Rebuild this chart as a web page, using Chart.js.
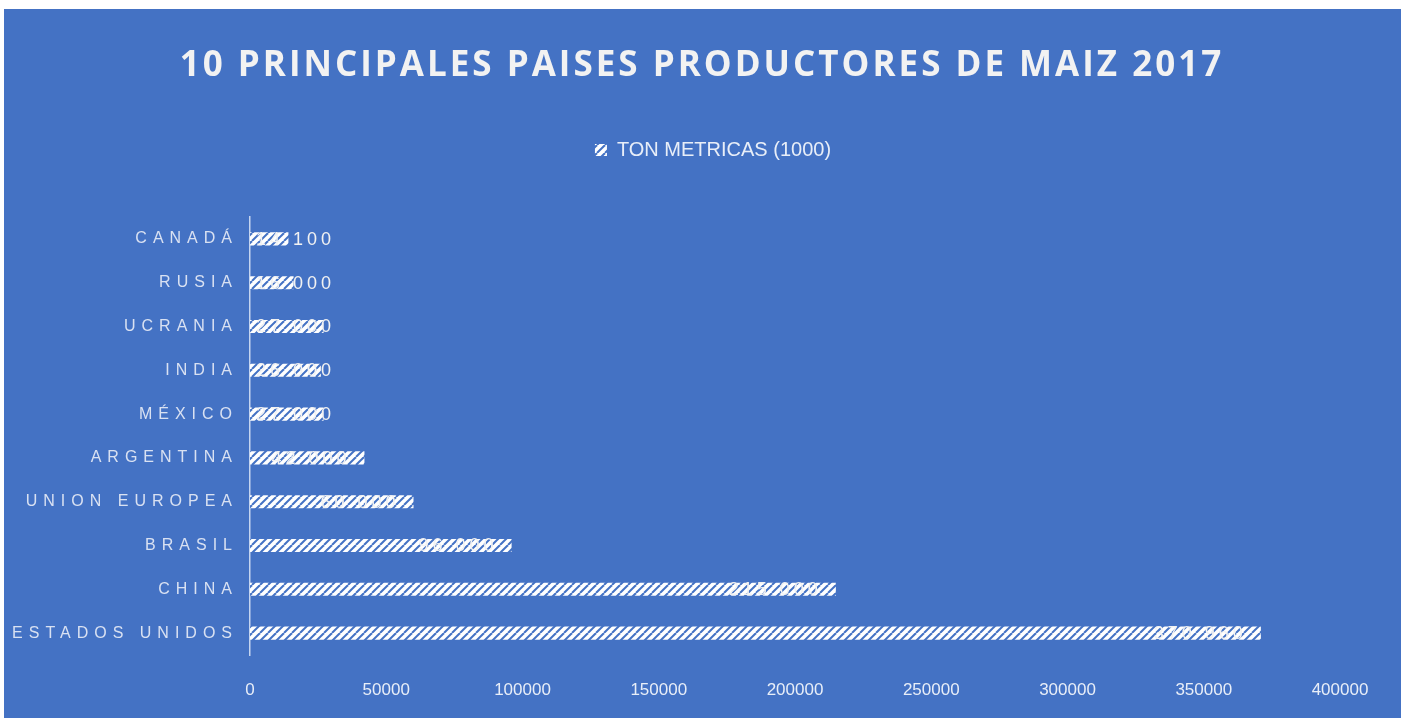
<!DOCTYPE html>
<html>
<head>
<meta charset="utf-8">
<script src="https://cdn.jsdelivr.net/npm/chart.js@4/dist/chart.umd.min.js"></script>
<style>
  html, body { margin: 0; padding: 0; background: #ffffff; }
  #wrap { position: absolute; left: 4px; top: 9px; width: 1397px; height: 709px; background: #4472C4; }
</style>
</head>
<body>
<div id="wrap"><canvas id="c"></canvas></div>
<script>
const titleText = '10 PRINCIPALES PAISES PRODUCTORES DE MAIZ 2017';
const seriesName = 'TON METRICAS (1000)';
const categories = ['CANADÁ', 'RUSIA', 'UCRANIA', 'INDIA', 'MÉXICO', 'ARGENTINA', 'UNION EUROPEA', 'BRASIL', 'CHINA', 'ESTADOS UNIDOS'];
const values = [14100, 16000, 27000, 26000, 27000, 42000, 60000, 96000, 215000, 370960];
const xTicks = [0, 50000, 100000, 150000, 200000, 250000, 300000, 350000, 400000];

const BLUE = '#4472C4';

function makePattern() {
  const s = 8;
  const c = document.createElement('canvas');
  c.width = s; c.height = s;
  const g = c.getContext('2d');
  g.fillStyle = '#ffffff';
  g.fillRect(0, 0, s, s);
  g.strokeStyle = BLUE;
  g.lineWidth = 2;
  for (let k = -1; k <= 1; k++) {
    g.beginPath();
    g.moveTo(k * s, s);
    g.lineTo(k * s + s, 0);
    g.stroke();
  }
  return g.createPattern(c, 'repeat');
}
const pattern = makePattern();

function fmt(v) { return String(v).replace(/\B(?=(\d{3})+(?!\d))/g, ' '); }

function wrapDraw(obj, spacing, dx) {
  if (!obj || obj._wrappedLS) return;
  const orig = obj.draw;
  obj.draw = function (area) {
    const ctx = this.ctx || (this.chart && this.chart.ctx);
    ctx.save();
    ctx.translate(dx, 0);
    ctx.letterSpacing = spacing;
    orig.call(this, area);
    ctx.restore();
  };
  obj._wrappedLS = true;
}

const spacingPlugin = {
  id: 'spacing',
  afterInit(chart) {
    const lg = chart.legend;
    if (lg && !lg._fitWrapped) {
      const of = lg.fit;
      lg.fit = function () { of.call(this); this.height += 47; };
      lg._fitWrapped = true;
    }
  },
  afterLayout(chart) {
    const y = chart.scales.y;
    if (y && !y._wrappedLS) {
      const orig = y.drawLabels;
      y.drawLabels = function (area) {
        const ctx = chart.ctx;
        ctx.save();
        ctx.letterSpacing = '6px';
        orig.call(this, area);
        ctx.restore();
      };
      y._wrappedLS = true;
    }
    wrapDraw(chart.titleBlock, '3px', 30);
    wrapDraw(chart.legend, '0px', 41);
  }
};

const labelPlugin = {
  id: 'barLabels',
  afterDatasetsDraw(chart) {
    const ctx = chart.ctx;
    const meta = chart.getDatasetMeta(0);
    ctx.save();
    ctx.font = '18px "Liberation Sans", sans-serif';
    ctx.letterSpacing = '4px';
    ctx.fillStyle = '#f2f2f2';
    ctx.textBaseline = 'middle';
    ctx.textAlign = 'left';
    meta.data.forEach((el, i) => {
      const txt = fmt(chart.data.datasets[0].data[i]);
      const w = ctx.measureText(txt).width;
      const left = Math.max(el.base + 6, el.x - 14 - w);
      ctx.fillText(txt, left, el.y + 1);
    });
    ctx.restore();
  }
};

new Chart(document.getElementById('c'), {
  type: 'bar',
  data: {
    labels: categories,
    datasets: [{
      label: seriesName,
      data: values,
      backgroundColor: pattern,
      borderWidth: 0,
      categoryPercentage: 0.3,
      barPercentage: 1.0
    }]
  },
  options: {
    indexAxis: 'y',
    responsive: true,
    maintainAspectRatio: false,
    animation: false,
    layout: { padding: { left: 0, right: 61, top: 0, bottom: 0 } },
    plugins: {
      tooltip: { enabled: false },
      title: {
        display: true,
        text: titleText,
        color: '#f2f2f2',
        font: { family: '"Open Sans", "Liberation Sans", sans-serif', size: 35, weight: 'bold' },
        padding: { top: 36, bottom: 49 }
      },
      legend: {
        display: true,
        position: 'top',
        labels: {
          color: '#e8eef8',
          boxWidth: 12,
          boxHeight: 12,
          padding: 4,
          font: { family: '"Liberation Sans", sans-serif', size: 20 }
        }
      }
    },
    scales: {
      x: {
        min: 0,
        max: 400000,
        afterFit(scale) { scale.height = 63; },
        afterBuildTicks(scale) { scale.ticks = xTicks.map(v => ({ value: v })); },
        grid: { display: false, drawTicks: false },
        border: { display: false },
        ticks: {
          color: '#e8eef8',
          padding: 25,
          maxRotation: 0,
          autoSkip: false,
          font: { family: '"Liberation Sans", sans-serif', size: 17 },
          callback: (v) => String(v)
        }
      },
      y: {
        afterFit(scale) { scale.width = 246; },
        grid: { display: false, drawTicks: false },
        border: { display: true, color: 'rgba(220,230,248,0.85)', width: 1.5 },
        ticks: {
          color: '#d9e1f2',
          padding: 12,
          autoSkip: false,
          font: { family: '"Liberation Sans", sans-serif', size: 16 }
        }
      }
    }
  },
  plugins: [spacingPlugin, labelPlugin]
});
</script>
</body>
</html>
